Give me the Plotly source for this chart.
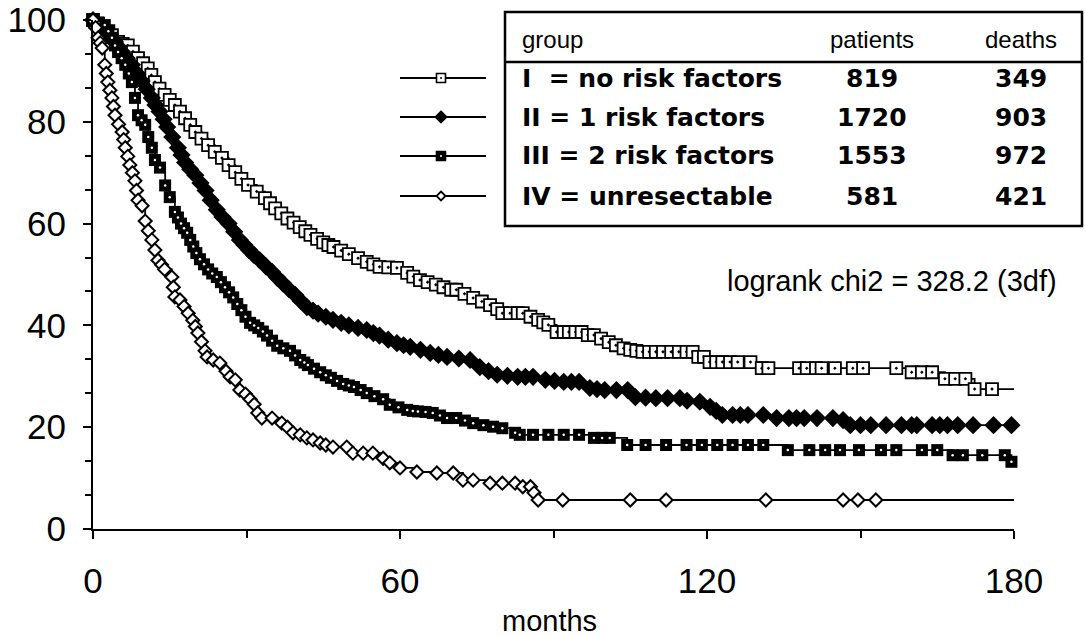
import plotly.graph_objects as go

# ---------------- data ----------------
months_I = [0, 1, 2, 3, 3.7, 4.9, 5.8, 6.8, 7.8, 8.8,
            9.8, 10.7, 11.4, 12.1, 13, 14, 15, 16, 17, 18,
            19, 20, 21.2, 22.5, 23.8, 25.2, 26.5, 27.8, 29, 30.3,
            32, 33.6, 34.6, 35.6, 36.8, 38, 39.2, 40.4, 41.5, 42.5,
            43.8, 45, 46, 47, 48.5, 50, 51.8, 53.5, 54.8, 56,
            57.7, 59.4, 61.4, 62.6, 63.9, 65.4, 67, 68.5, 70, 71,
            72.6, 74.3, 76, 77.6, 79, 80, 81.5, 83, 84, 85.5,
            87, 88, 89, 90.6, 92, 93, 94.3, 95.5, 96.7, 97.9,
            99.3, 100.8, 102.2, 103.7, 105, 106.2, 107.4, 108.7, 110, 111.4,
            113, 114.5, 116, 117.2, 118.3, 119.4, 120.5, 121.8, 123, 124.5,
            126, 128.5, 130.7, 132, 138, 139.5, 141.3, 142.4, 145, 148.5,
            150.5, 157, 160, 162, 164, 166.5, 168.5, 170.5, 172.3, 175.7,
            180]
surv_I = [100, 99.3, 98.5, 97.8, 97, 95.7, 95.3, 95, 93.8, 92.5,
          91.5, 90.5, 89.2, 87.8, 86.5, 85.3, 84.3, 83.3, 82, 80.7,
          79.4, 78, 76.7, 75.4, 74.1, 72.9, 71.5, 70.1, 68.8, 67.6,
          66.3, 65, 64, 63, 62, 61, 60.2, 59.3, 58.5, 57.8,
          57, 56.3, 55.8, 55.4, 54.7, 54, 53.2, 52.5, 52, 51.5,
          51.4, 51.3, 50.3, 49.6, 48.9, 48.5, 48, 47.5, 47, 47,
          46.2, 45.4, 44.7, 44, 43.2, 42.4, 42.4, 42.4, 42.4, 41.7,
          41.1, 40.6, 40.1, 38.7, 38.7, 38.7, 38.7, 38.7, 38.1, 38.1,
          37.4, 36.7, 36.1, 35.5, 35.2, 35, 34.8, 34.8, 34.8, 34.8,
          34.8, 34.8, 34.8, 34.8, 33.8, 33.8, 32.8, 32.8, 32.8, 32.8,
          32.8, 32.8, 31.6, 31.6, 31.6, 31.6, 31.6, 31.6, 31.6, 31.6,
          31.6, 31.6, 30.8, 30.8, 30.8, 29.5, 29.5, 29.5, 27.5, 27.5,
          27.5]

months_II = [0, 1, 1.7, 2.3, 3.3, 4.3, 5, 5.7, 6.6, 7.6,
             8.5, 9.5, 10.5, 11.5, 12.2, 13, 13.8, 14.5, 15.5, 16.6,
             17.3, 18, 19, 20, 21, 22, 23, 24.2, 25.3, 26.5,
             27.6, 28.7, 29.6, 30.5, 31.5, 32.6, 33.8, 35, 36, 37.1,
             38.3, 39.5, 40.6, 41.8, 43, 44, 45.5, 46.9, 48.5, 50,
             51.8, 53.5, 54.8, 56, 57.7, 59.4, 60.7, 62, 64, 65.9,
             67.5, 69.2, 71.5, 73.7, 75.6, 77.3, 79, 81, 83, 84.5,
             86, 88.4, 90.2, 92, 93.5, 95, 97.1, 98.5, 100, 102.3,
             104.5, 106, 108, 110, 112.3, 114.7, 116.1, 118.6, 120.6, 121.8,
             123, 125, 126.5, 128, 131, 133.6, 136, 137.5, 139, 141.5,
             144.6, 146.6, 148, 150, 152, 155, 158, 160, 161, 164,
             165.5, 167, 169, 172, 176, 179.5]
surv_II = [100, 99, 98.3, 97.6, 96.6, 95.7, 94.7, 93.7, 92.5, 91.2,
           89.6, 88, 86.4, 84.7, 83.3, 82, 80.5, 79, 77, 74.9,
           73.5, 72, 70.7, 69.5, 68, 66.5, 64.6, 62.7, 61.3, 60,
           58.4, 56.8, 55.8, 54.8, 53.8, 52.8, 51.6, 50.5, 49.4, 48.3,
           47.1, 46, 44.8, 43.6, 42.9, 42.3, 41.7, 41.1, 40.5, 40,
           39.5, 39.1, 38.5, 38, 37.2, 36.5, 36.1, 35.8, 35.2, 34.6,
           34.2, 33.8, 33.5, 33.2, 31.8, 31, 30.3, 30.1, 29.9, 29.9,
           29.9, 29.3, 29.1, 28.9, 28.9, 28.9, 27.7, 27.5, 27.3, 27.3,
           27.3, 25.9, 25.8, 25.7, 25.7, 25.7, 25.2, 25, 24, 23.2,
           22.4, 22.4, 22.4, 22.4, 22.4, 21.8, 21.8, 21.8, 21.8, 21.8,
           21.8, 21.4, 20.4, 20.4, 20.4, 20.4, 20.4, 20.4, 20.4, 20.4,
           20.4, 20.4, 20.4, 20.4, 20.4, 20.4]

months_III = [0, 1, 2.3, 3, 3.7, 4.3, 4.9, 5.6, 6.3, 7,
              7.6, 8.2, 8.8, 9.5, 10.2, 10.8, 11.5, 12.1, 13.1, 14.1,
              15, 16, 16.6, 17.2, 17.8, 18.4, 19, 19.6, 20.2, 20.9,
              21.7, 22.5, 23.3, 24.2, 25, 25.8, 26.6, 27.4, 28.2, 29,
              29.8, 30.7, 31.5, 32.3, 33.2, 34, 35, 36, 37.2, 38.5,
              39.5, 40.5, 41.3, 42, 43.2, 44.4, 45.5, 46.5, 47.7, 48.9,
              50, 51, 52.3, 53.5, 55, 56.7, 58, 59.7, 61.4, 62.5,
              63.5, 65, 66.4, 67.8, 69.2, 71, 72.7, 74.3, 76.3, 78.2,
              80, 82.5, 83.4, 86, 89, 92, 95, 97.9, 99.5, 101,
              104.4, 108, 112, 116, 119, 122, 125, 128, 131, 135.8,
              140, 143.1, 146, 149.7, 154, 157, 162, 165, 168, 170,
              173.8, 178.2, 179.5]
surv_III = [100, 99.5, 99, 97.8, 96.5, 95, 93.7, 92.5, 91.2, 89.5,
            87.8, 84.7, 81.3, 80.3, 79.4, 77, 74.9, 72.5, 71, 67.5,
            65.2, 62.3, 61.2, 60, 59.1, 58.2, 56.8, 55.5, 54.2, 53,
            52, 51, 50.2, 49.5, 48.5, 47.5, 46.5, 45.5, 44.2, 43,
            41.7, 40.5, 40, 39.5, 38.8, 38, 37, 36, 35.5, 35,
            34.1, 33.2, 32.7, 32.2, 31.5, 30.8, 30.2, 29.7, 29.1, 28.5,
            28.2, 27.9, 27.3, 26.7, 26.1, 25.5, 24.4, 23.9, 23.4, 23.2,
            23.1, 23, 22.8, 22.3, 21.8, 21.8, 21.3, 20.8, 20.4, 20.1,
            19.8, 18.9, 18.5, 18.5, 18.5, 18.5, 18.5, 17.9, 17.9, 17.9,
            16.5, 16.5, 16.5, 16.5, 16.5, 16.5, 16.5, 16.5, 16.5, 15.5,
            15.5, 15.5, 15.5, 15.5, 15.5, 15.5, 15.5, 15.5, 14.5, 14.5,
            14.5, 14.5, 13.2]

months_IV = [0, 0.5, 1, 1.4, 1.8, 2.3, 2.6, 2.9, 3.3, 3.7,
             4.0, 4.3, 5.0, 5.7, 6.0, 6.3, 6.8, 7.2, 7.7, 8.2,
             8.5, 8.8, 9.6, 10.2, 10.8, 11.5, 12.1, 12.7, 13.4, 14,
             15.4, 15.7, 16, 17, 17.8, 18.6, 19.5, 20, 20.5, 21.2,
             21.9, 22.3, 23.5, 24.8, 26, 26.8, 27.8, 28.7, 29.8, 30.7,
             31.5, 32.2, 33, 35, 36.9, 38, 39.1, 40.5, 41.8, 43,
             44.4, 45.5, 46.9, 49.6, 50.8, 52.8, 54.7, 56.7, 58, 60,
             63.3, 67.2, 70.4, 72.3, 74.3, 77.6, 80, 82.5, 84, 85.5,
             86.2, 87, 91.8, 105, 112, 131.5, 146.6, 149.5, 153, 180]
surv_IV = [100, 98.5, 96.5, 95.5, 94.5, 91.2, 89.5, 87.8, 86.2, 84.7,
           83, 81.3, 79.5, 78, 76.5, 74.9, 73.2, 71.5, 70, 68.4,
           66.5, 64.6, 63.5, 60.5, 58.6, 56.8, 54.8, 52.8, 51.9, 51,
           49.5, 47.5, 45.6, 45, 43.7, 42.4, 41, 39.8, 38.5, 36.8,
           35, 33.8, 33.2, 32.6, 31, 29.9, 29.3, 27.3, 26.5, 25.5,
           24.5, 22.8, 21.8, 21.8, 20.8, 20, 18.9, 18.5, 17.9, 17.5,
           16.9, 16.5, 16.1, 16.1, 14.9, 14.9, 14.9, 13.9, 13, 12,
           11.2, 11, 11, 9.6, 9.6, 9.0, 9.0, 9.0, 8.3, 8.3,
           7.1, 5.7, 5.7, 5.7, 5.7, 5.7, 5.7, 5.7, 5.7, 5.7]

group_labels = ["I  = no risk factors", "II = 1 risk factors",
                "III = 2 risk factors", "IV = unresectable"]
patients = [819, 1720, 1553, 581]
deaths = [349, 903, 972, 421]
header = ["group", "patients", "deaths"]
x_ticks = [0, 60, 120, 180]
y_ticks = [0, 20, 40, 60, 80, 100]
stat_text = "logrank chi2 = 328.2 (3df)"
x_title = "months"

for a, b in [(months_I, surv_I), (months_II, surv_II),
             (months_III, surv_III), (months_IV, surv_IV)]:
    assert len(a) == len(b), (len(a), len(b))

# ---------------- layout helpers ----------------
W, H = 1086, 636
L, R, T, B = 93, 72, 20, 107
PW, PH = W - L - R, H - T - B


def px(x):
    return (x - L) / PW


def py(y):
    return (H - B - y) / PH


FONT = "Liberation Sans, Arial, sans-serif"
BOLD = "DejaVu Sans, Liberation Sans, sans-serif"

series = [
    dict(t=months_I, s=surv_I, symbol="square-dot", size=12, color="white",
         lc="black", lw=1.8, dot=False),
    dict(t=months_II, s=surv_II, symbol="diamond", size=14, color="black",
         lc="black", lw=0, dot=False),
    dict(t=months_III, s=surv_III, symbol="square", size=12, color="black",
         lc="black", lw=0, dot=True),
    dict(t=months_IV, s=surv_IV, symbol="diamond", size=10, color="white",
         lc="black", lw=2, dot=False),
]

fig = go.Figure()
for sr in series:
    fig.add_trace(go.Scatter(x=sr["t"], y=sr["s"], mode="lines",
                             line=dict(color="black", width=1.8, shape="hv"),
                             hoverinfo="skip", showlegend=False, cliponaxis=False))
for sr in series:
    mt = [t for t in sr["t"] if t < 180]
    ms = [s for t, s in zip(sr["t"], sr["s"]) if t < 180]
    fig.add_trace(go.Scatter(x=mt, y=ms, mode="markers",
                             marker=dict(symbol=sr["symbol"], size=sr["size"],
                                         color=sr["color"],
                                         line=dict(color=sr["lc"], width=sr["lw"])),
                             showlegend=False, cliponaxis=False))
    if sr["dot"]:
        fig.add_trace(go.Scatter(x=mt, y=ms, mode="markers",
                                 marker=dict(symbol="circle", size=2.5, color="white"),
                                 showlegend=False, cliponaxis=False))

shapes = []
annotations = []

# table box
bx0, bx1, by0, by1 = px(505), px(1082), py(226), py(12)
shapes.append(dict(type="rect", xref="paper", yref="paper", x0=bx0, x1=bx1,
                   y0=by0, y1=by1, line=dict(color="black", width=2.5),
                   fillcolor="white", layer="below"))
shapes.append(dict(type="line", xref="paper", yref="paper", x0=bx0, x1=bx1,
                   y0=py(62), y1=py(62), line=dict(color="black", width=2.5)))

annotations.append(dict(text=header[0], x=px(520), y=py(40), xref="paper", yref="paper",
                        xanchor="left", yanchor="middle", showarrow=False,
                        font=dict(family=FONT, size=24, color="black")))
annotations.append(dict(text=header[1], x=px(872), y=py(40), xref="paper", yref="paper",
                        xanchor="center", yanchor="middle", showarrow=False,
                        font=dict(family=FONT, size=24, color="black")))
annotations.append(dict(text=header[2], x=px(1021), y=py(40), xref="paper", yref="paper",
                        xanchor="center", yanchor="middle", showarrow=False,
                        font=dict(family=FONT, size=24, color="black")))

row_y = [78, 117, 156, 196]
for i, yy in enumerate(row_y):
    yp = py(yy)
    annotations.append(dict(text="<b>%s</b>" % group_labels[i].replace("  ", "&nbsp; "),
                            x=px(520), y=yp, xref="paper", yref="paper",
                            xanchor="left", yanchor="middle", showarrow=False,
                            font=dict(family=BOLD, size=25, color="black")))
    annotations.append(dict(text="<b>%d</b>" % patients[i], x=px(872), y=yp,
                            xref="paper", yref="paper", xanchor="center",
                            yanchor="middle", showarrow=False,
                            font=dict(family=BOLD, size=25, color="black")))
    annotations.append(dict(text="<b>%d</b>" % deaths[i], x=px(1021), y=yp,
                            xref="paper", yref="paper", xanchor="center",
                            yanchor="middle", showarrow=False,
                            font=dict(family=BOLD, size=25, color="black")))
    # legend sample line
    shapes.append(dict(type="line", xref="paper", yref="paper", x0=px(400), x1=px(486),
                       y0=yp, y1=yp, line=dict(color="black", width=2)))
    common = dict(xref="paper", yref="paper", xsizemode="pixel", ysizemode="pixel",
                  xanchor=px(441), yanchor=yp)
    if i in (0, 2):
        shapes.append(dict(type="rect", x0=-4.5, x1=4.5, y0=-4.5, y1=4.5,
                           fillcolor="white" if i == 0 else "black",
                           line=dict(color="black", width=1.6), **common))
        shapes.append(dict(type="circle", x0=-1, x1=1, y0=-1, y1=1,
                           fillcolor="black" if i == 0 else "white",
                           line=dict(width=0), **common))
    else:
        r = 5.5 if i == 1 else 4.5
        shapes.append(dict(type="path",
                           path="M0,%g L%g,0 L0,%g L%g,0 Z" % (r, r, -r, -r),
                           fillcolor="black" if i == 1 else "white",
                           line=dict(color="black", width=1.8), **common))

annotations.append(dict(text=stat_text, x=px(725), y=py(281), xref="paper", yref="paper",
                        xanchor="left", yanchor="middle", showarrow=False,
                        font=dict(family=FONT, size=29, color="black")))
annotations.append(dict(text=x_title, x=px(549), y=py(621), xref="paper", yref="paper",
                        xanchor="center", yanchor="middle", showarrow=False,
                        font=dict(family=FONT, size=29, color="black")))

fig.update_layout(
    width=W, height=H,
    margin=dict(l=L, r=R, t=T, b=B, pad=0, autoexpand=False),
    paper_bgcolor="white", plot_bgcolor="white",
    showlegend=False,
    shapes=shapes, annotations=annotations,
    xaxis=dict(range=[0, 180], tickmode="array", tickvals=x_ticks,
               ticktext=[str(v) for v in x_ticks], automargin=False,
               showgrid=False, zeroline=False, showline=True, linecolor="black",
               linewidth=2, ticks="outside", ticklen=8, tickwidth=2, tickcolor="black",
               ticklabelstandoff=12,
               tickfont=dict(family=FONT, size=35, color="black"),
               minor=dict(tickmode="array", tickvals=[30, 90, 150], ticks="outside",
                          ticklen=7, tickwidth=2, tickcolor="black")),
    yaxis=dict(range=[0, 100], tickmode="array", tickvals=y_ticks,
               ticktext=[str(v) for v in y_ticks], automargin=False,
               showgrid=False, zeroline=False, showline=True, linecolor="black",
               linewidth=2, ticks="outside", ticklen=8, tickwidth=2, tickcolor="black",
               ticklabelstandoff=10,
               tickfont=dict(family=FONT, size=35, color="black"),
               minor=dict(dtick=20 / 3, tick0=0, ticks="outside", ticklen=6,
                          tickwidth=2, tickcolor="black")),
)

fig.write_html("out.html")
